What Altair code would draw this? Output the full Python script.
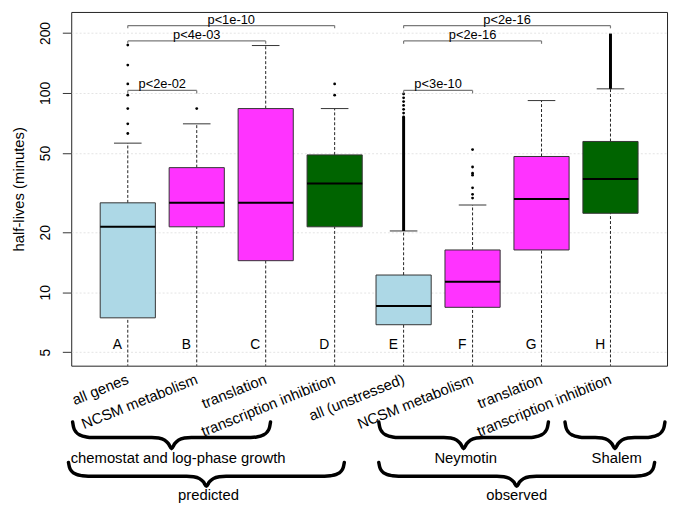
import altair as alt
import pandas as pd

# ---------------- data ----------------
letters = ["A", "B", "C", "D", "E", "F", "G", "H"]
positions = [1, 2, 3, 4, 5, 6, 7, 8]
names = ["all genes", "NCSM metabolism", "translation", "transcription inhibition",
         "all (unstressed)", "NCSM metabolism", "translation", "transcription inhibition"]
box_colors = ["#ADD8E6", "#FF33FF", "#FF33FF", "#006400",
              "#ADD8E6", "#FF33FF", "#FF33FF", "#006400"]
q1 = [7.44, 21.3, 14.4, 21.3, 6.87, 8.4, 16.3, 24.9]
median = [21.3, 28.1, 28.1, 35.1, 8.53, 11.3, 29.4, 37.0]
q3 = [28.1, 42.2, 83.5, 48.9, 12.2, 16.3, 48.0, 57.1]
whisker_hi = [56.0, 70.0, 173.0, 83.5, 20.3, 27.4, 91.6, 104.9]
whisker_lo = [2.0, 2.0, 2.0, 2.0, 2.0, 2.0, 2.0, 2.0]   # below the visible range

outlier_pos = [1, 1, 1, 1, 1, 1, 1,
               2,
               4, 4,
               5, 5, 5, 5, 5, 5, 5,
               6, 6, 6, 6, 6, 6, 6]
outlier_val = [174, 138, 111, 97.5, 83.5, 70.0, 62.6,
               83.5,
               111, 97.5,
               98.9, 94.5, 90.5, 86.6, 82.8, 79.3, 75.9,
               52.0, 42.5, 39.6, 38.7, 33.4, 31.0, 29.7]
dense_pos = [5, 8]
dense_lo = [20.3, 104.9]
dense_hi = [75.9, 198.6]

bracket_from = [1, 1, 1, 5, 5, 5]
bracket_to = [4, 3, 2, 8, 7, 6]
bracket_level = [217.8, 182.4, 103.0, 217.8, 182.4, 103.0]
bracket_tick_end = [211.0, 176.5, 99.5, 211.0, 176.5, 99.5]
bracket_text = ["p<1e-10", "p<4e-03", "p<2e-02", "p<2e-16", "p<2e-16", "p<3e-10"]

brace_start = [0.20, 4.64, 7.34, 0.14, 4.64]
brace_end = [3.07, 7.10, 8.79, 4.14, 8.64]
brace_row = [1, 1, 1, 2, 2]
brace_label = ["chemostat and log-phase growth", "Neymotin", "Shalem", "predicted", "observed"]
brace_label_x = [1.73, 5.90, 8.09, 2.17, 6.64]

# ---------------- layout constants ----------------
W, H = 603, 358
X_DOM = [0.18, 8.82]
PX_PER_UNIT = W / (X_DOM[1] - X_DOM[0])
row_top = {1: 57, 2: 98}
row_depth = {1: 27, 2: 24}
row_label = {1: 93, 2: 131}
xlabel_depth = 13
FONT = "Liberation Sans"

xs = alt.Scale(domain=X_DOM, nice=False, zero=False)
ys = alt.Scale(type="log", domain=[4.28, 255], nice=False)
ann = alt.Scale(domain=[-H, 0], reverse=True, nice=False, zero=False)

boxes = pd.DataFrame({"pos": positions, "letter": letters, "name": names,
                      "color": box_colors, "q1": q1, "med": median, "q3": q3,
                      "hi": whisker_hi, "lo": whisker_lo})
outl = pd.DataFrame({"pos": outlier_pos, "val": outlier_val})
dense = pd.DataFrame({"pos": dense_pos, "lo": dense_lo, "hi": dense_hi})
brk = pd.DataFrame({"a": bracket_from, "b": bracket_to, "lev": bracket_level,
                    "end": bracket_tick_end, "txt": bracket_text})
brk_ticks = pd.DataFrame({
    "x": bracket_from + bracket_to,
    "lev": bracket_level + bracket_level,
    "end": bracket_tick_end + bracket_tick_end,
})

# brace outlines (decoration shape, in px offsets converted to x units)
rows = []
for i, (s, e, r) in enumerate(zip(brace_start, brace_end, brace_row)):
    w_px = (e - s) * PX_PER_UNIT
    m = w_px / 2
    half = [(0, 0), (1, 0.2), (3.5, 0.38), (8, 0.5), (14, 0.56), (20, 0.58),
            (m - 20, 0.58), (m - 13, 0.6), (m - 7, 0.68), (m - 3, 0.82), (m, 1.0)]
    full = half + [(w_px - dx, f) for dx, f in reversed(half[:-1])]
    for k, (dx, f) in enumerate(full):
        rows.append({"brace": i, "k": k, "x": s + dx / PX_PER_UNIT,
                     "d": row_top[r] + f * row_depth[r]})
brace_df = pd.DataFrame(rows)
brace_lab_df = pd.DataFrame({"x": brace_label_x, "label": brace_label,
                             "d": [row_label[r] for r in brace_row]})
xlab_df = pd.DataFrame({"x": positions, "name": names, "d": [xlabel_depth] * 8})

HALF = 0.4
STAPLE = 0.2

base = alt.Chart(boxes)

yaxis = alt.Axis(values=[5, 10, 20, 50, 100, 200], format="d",
                 title="half-lives (minutes)", titleFontSize=15, titleFontWeight="normal",
                 titleFont=FONT, titleColor="black", titlePadding=12,
                 labelFontSize=14, labelFont=FONT, labelColor="black",
                 labelAngle=270, labelAlign="center", labelBaseline="bottom",
                 labelPadding=10, tickSize=9, tickColor="#333", domain=False,
                 grid=True, gridColor="#e4e4e4", gridDash=[2, 2])


def Y(field):
    return alt.Y(field, scale=ys, axis=yaxis)


whisk_up = base.mark_rule(color="#222", strokeDash=[3, 2], strokeWidth=1).encode(
    x=alt.X("pos:Q", scale=xs, axis=None), y=Y("q3:Q"), y2="hi:Q")
whisk_dn = base.mark_rule(color="#222", strokeDash=[3, 2], strokeWidth=1, clip=True).encode(
    x=alt.X("pos:Q", scale=xs, axis=None), y=Y("lo:Q"), y2="q1:Q")
staple = base.transform_calculate(
    xa=f"datum.pos - {STAPLE}", xb=f"datum.pos + {STAPLE}"
).mark_rule(color="#333", strokeWidth=1).encode(
    x=alt.X("xa:Q", scale=xs, axis=None), x2="xb:Q", y=Y("hi:Q"))
rects = base.transform_calculate(
    xa=f"datum.pos - {HALF}", xb=f"datum.pos + {HALF}"
).mark_rect(stroke="#333", strokeWidth=1).encode(
    x=alt.X("xa:Q", scale=xs, axis=None), x2="xb:Q",
    y=Y("q1:Q"), y2="q3:Q",
    fill=alt.Fill("color:N", scale=None))
meds = base.transform_calculate(
    xa=f"datum.pos - {HALF}", xb=f"datum.pos + {HALF}"
).mark_rule(color="black", strokeWidth=2).encode(
    x=alt.X("xa:Q", scale=xs, axis=None), x2="xb:Q", y=Y("med:Q"))
outs = alt.Chart(outl).mark_circle(color="black", size=8, opacity=1).encode(
    x=alt.X("pos:Q", scale=xs, axis=None), y=Y("val:Q"))
dense_l = alt.Chart(dense).mark_rule(color="black", strokeWidth=3).encode(
    x=alt.X("pos:Q", scale=xs, axis=None), y=Y("lo:Q"), y2="hi:Q")
letters_l = base.transform_calculate(xl="datum.pos - 0.15", yl="5.44").mark_text(
    fontSize=14, font=FONT, color="black").encode(
    x=alt.X("xl:Q", scale=xs, axis=None), y=Y("yl:Q"), text="letter:N")
brk_h = alt.Chart(brk).mark_rule(color="#7a7a7a", strokeWidth=1.2).encode(
    x=alt.X("a:Q", scale=xs, axis=None), x2="b:Q", y=Y("lev:Q"))
brk_v = alt.Chart(brk_ticks).mark_rule(color="#7a7a7a", strokeWidth=1.2).encode(
    x=alt.X("x:Q", scale=xs, axis=None), y=Y("lev:Q"), y2="end:Q")
brk_t = alt.Chart(brk).transform_calculate(xm="(datum.a + datum.b) / 2").mark_text(
    fontSize=13, font=FONT, color="black", baseline="bottom", dy=1).encode(
    x=alt.X("xm:Q", scale=xs, axis=None), y=Y("lev:Q"), text="txt:N")

main = alt.layer(whisk_up, whisk_dn, staple, rects, meds, dense_l, outs,
                 letters_l, brk_h, brk_v, brk_t)

xlab = alt.Chart(xlab_df).mark_text(
    fontSize=15, font=FONT, color="black", align="right", baseline="middle",
    angle=338, clip=False).encode(
    x=alt.X("x:Q", scale=xs, axis=None),
    y=alt.Y("d:Q", scale=ann, axis=None), text="name:N")
braces = alt.Chart(brace_df).mark_line(
    color="black", strokeWidth=3.5, strokeCap="round", strokeJoin="round",
    interpolate="monotone", clip=False).encode(
    x=alt.X("x:Q", scale=xs, axis=None),
    y=alt.Y("d:Q", scale=ann, axis=None),
    detail="brace:N", order="k:Q")
brace_txt = alt.Chart(brace_lab_df).mark_text(
    fontSize=15, font=FONT, color="black", baseline="middle", clip=False).encode(
    x=alt.X("x:Q", scale=xs, axis=None),
    y=alt.Y("d:Q", scale=ann, axis=None), text="label:N")

annot = alt.layer(xlab, braces, brace_txt)

chart = alt.layer(main, annot).resolve_scale(y="independent").resolve_axis(
    y="independent").properties(
    width=W, height=H,
    autosize=alt.AutoSizeParams(type="none"),
    padding={"left": 64, "right": 2, "top": 1, "bottom": 138},
    background="white",
).configure_view(stroke="#222", strokeWidth=1)

chart.save("out.html", embed_options={"renderer": "svg", "actions": False})
